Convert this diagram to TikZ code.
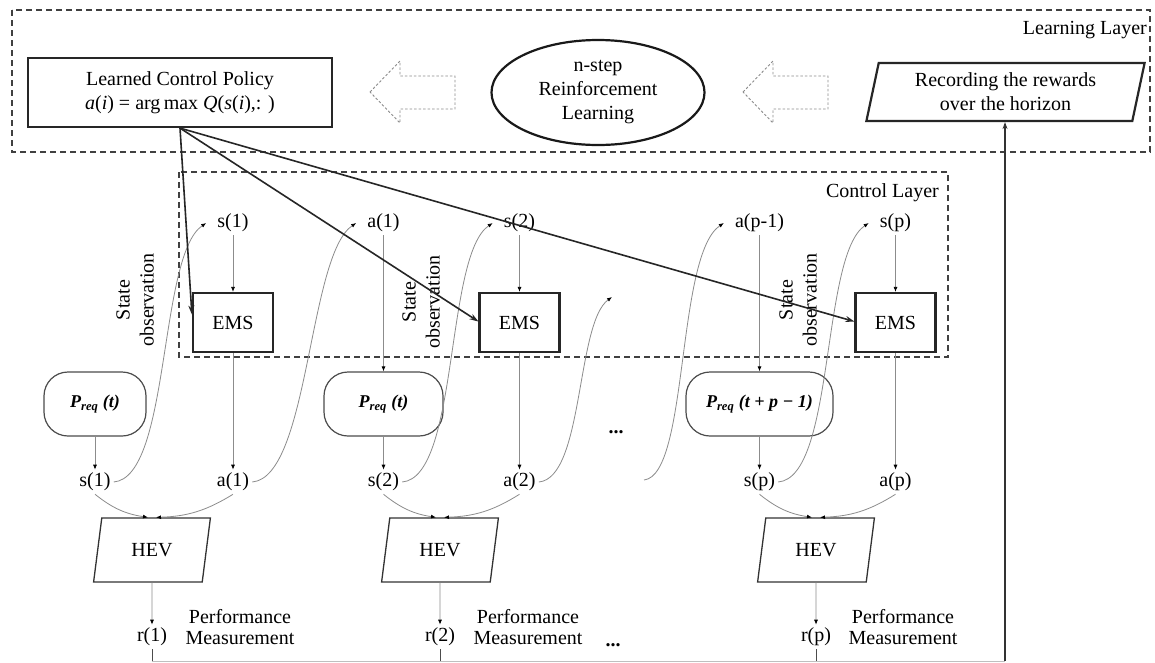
\documentclass[tikz,border=0pt]{standalone}
\usepackage{fontspec}
\setmainfont{Liberation Serif}
\usetikzlibrary{shapes.geometric,arrows.meta,calc}
\tikzset{
  basefont/.style={font=\fontsize{20}{24}\selectfont},
  lbl/.style={basefont, inner sep=3pt},
  bigbox/.style={basefont, draw=black!85, line width=2.2pt, align=center, inner sep=0pt},
  emsbox/.style={basefont, draw=black!85, line width=2.2pt, minimum width=80pt, minimum height=59pt, inner sep=0pt},
  hevbox/.style={basefont, draw=black!80, line width=1.3pt, trapezium, trapezium left angle=76, trapezium right angle=104, trapezium stretches=true, minimum width=117pt, minimum height=64pt, inner sep=0pt},
  preqbox/.style={draw=black!70, line width=1.2pt, rounded corners=24pt, minimum height=64pt, inner sep=0pt, font=\fontsize{18}{20}\selectfont\bfseries\itshape},
  layerbox/.style={draw=black!75, line width=1.5pt, dash pattern=on 6pt off 4pt},
  conn/.style={draw=black!45, line width=0.8pt},
  dottip/.style={-{Latex[length=5pt,width=4pt,color=black]}},
  ctrlarrow/.style={draw=black!85, line width=1.6pt, -{Stealth[length=9pt,width=6pt]}},
  hollowarrow/.style={draw=black!45, line width=0.9pt, dash pattern=on 2.5pt off 2pt},
  obslbl/.style={basefont, rotate=90, align=center, inner sep=0pt},
  perflbl/.style={font=\fontsize{20}{21}\selectfont, align=center, inner sep=0pt},
}
\begin{document}
\begin{tikzpicture}[x=1pt,y=-1pt]
\useasboundingbox (0,0) rectangle (1155,662);
\fill[white] (0,0) rectangle (1155,662);

% ---------- Learning layer ----------
\draw[layerbox] (12,10) rectangle (1150,152);
\node[basefont, anchor=east, inner sep=0pt] (ll) at (1147,30) {Learning Layer};

\node[bigbox, minimum width=304pt, minimum height=69pt] (lcp) at (180,92.5)
  {Learned Control Policy\\\textit{a}(\textit{i}) = arg\,max \textit{Q}(\textit{s}(\textit{i}),: )};
\node[basefont, draw=black!90, line width=2.2pt, ellipse, minimum width=213pt, minimum height=105pt, align=center, inner sep=0pt] (rl) at (598,92.5)
  {n-step\\Reinforcement\\Learning};
\node[basefont, draw=black!85, line width=2.2pt, trapezium, trapezium left angle=77, trapezium right angle=103, trapezium stretches=true, minimum width=279pt, minimum height=58pt, align=center, inner sep=0pt] (rec) at (1005.5,92)
  {Recording the rewards\\over the horizon};

\draw[hollowarrow] (370,92) -- (400,61) -- (400,76) -- (455,76) -- (455,109) -- (400,109) -- (400,123) -- cycle;
\draw[hollowarrow] (743,92) -- (773,61) -- (773,76) -- (828,76) -- (828,109) -- (773,109) -- (773,123) -- cycle;

% ---------- Control layer ----------
\draw[layerbox] (179,172) rectangle (948,357);
\node[basefont, anchor=east, inner sep=0pt] (cl) at (939,193) {Control Layer};

\node[emsbox] (e1) at (233,322.5) {EMS};
\node[emsbox] (e2) at (519.5,322.5) {EMS};
\node[emsbox] (e3) at (895.5,322.5) {EMS};

\node[lbl] (ts1) at (233,223) {s(1)};
\node[lbl] (ta1) at (383.5,223) {a(1)};
\node[lbl] (ts2) at (519.5,223) {s(2)};
\node[lbl] (tap) at (759.5,223) {a(p-1)};
\node[lbl] (tsp) at (895.5,223) {s(p)};

% ---------- Requests ----------
\node[preqbox, minimum width=102pt] (p1) at (95,404) {P\textsubscript{req} (t)};
\node[preqbox, minimum width=119pt] (p2) at (383.5,404) {P\textsubscript{req} (t)};
\node[preqbox, minimum width=147pt] (p3) at (759.5,404) {P\textsubscript{req} (t + p − 1)};

\node[lbl] (ls1) at (95,482) {s(1)};
\node[lbl] (la1) at (233,482) {a(1)};
\node[lbl] (ls2) at (383.5,482) {s(2)};
\node[lbl] (la2) at (519.5,482) {a(2)};
\node[lbl] (lsp) at (759.5,482) {s(p)};
\node[lbl] (lap) at (895.5,482) {a(p)};

\node[basefont, font=\fontsize{20}{24}\selectfont\bfseries, anchor=base, inner sep=0pt] (dots1) at (616,433) {...};

% ---------- HEV ----------
\node[hevbox] (h1) at (152,550) {HEV};
\node[hevbox] (h2) at (440,550) {HEV};
\node[hevbox] (h3) at (816,550) {HEV};

\node[lbl] (r1) at (152,637) {r(1)};
\node[lbl] (r2) at (440,637) {r(2)};
\node[lbl] (r3) at (816,637) {r(p)};
\node[perflbl] (pm1) at (240,627) {Performance\\Measurement};
\node[perflbl] (pm2) at (528,627) {Performance\\Measurement};
\node[perflbl] (pm3) at (903,627) {Performance\\Measurement};
\node[basefont, font=\fontsize{20}{24}\selectfont\bfseries, anchor=base, inner sep=0pt] (dots2) at (613,646) {...};

% ---------- straight connectors ----------
\draw[conn, dottip] (ts1) -- (e1);
\draw[conn, dottip] (ta1) -- (p2);
\draw[conn, dottip] (ts2) -- (e2);
\draw[conn, dottip] (tap) -- (p3);
\draw[conn, dottip] (tsp) -- (e3);
\draw[conn, dottip] (e1) -- (la1);
\draw[conn, dottip] (e2) -- (la2);
\draw[conn, dottip] (e3) -- (lap);
\draw[conn, dottip] (p1) -- (ls1);
\draw[conn, dottip] (p2) -- (ls2);
\draw[conn, dottip] (p3) -- (lsp);
\draw[conn, dottip] (h1) -- (r1);
\draw[conn, dottip] (h2) -- (r2);
\draw[conn, dottip] (h3) -- (r3);

\draw[conn, dottip] (ls1.south) to[bend right=15] ($(h1.north)+(-4,0)$);
\draw[conn, dottip] (la1.south) to[bend left=15] ($(h1.north)+(4,0)$);
\draw[conn, dottip] (ls2.south) to[bend right=15] ($(h2.north)+(-4,0)$);
\draw[conn, dottip] (la2.south) to[bend left=15] ($(h2.north)+(4,0)$);
\draw[conn, dottip] (lsp.south) to[bend right=15] ($(h3.north)+(-4,0)$);
\draw[conn, dottip] (lap.south) to[bend left=15] ($(h3.north)+(4,0)$);

% ---------- state observation curves ----------
\coordinate (dotend) at (612,297);
\coordinate (c5s) at (644,480);
\draw[conn, dottip] (ls1.east) .. controls ($(ls1.east)+(57,-5)$) and ($(ts1.west)+(-56,32)$) .. ($(ts1.west)+(-8,0)$);
\draw[conn, dottip] (la1.east) .. controls ($(la1.east)+(57,-5)$) and ($(ta1.west)+(-56,32)$) .. ($(ta1.west)+(-8,0)$);
\draw[conn, dottip] (ls2.east) .. controls ($(ls2.east)+(57,-5)$) and ($(ts2.west)+(-56,32)$) .. ($(ts2.west)+(-8,0)$);
\draw[conn, dottip] (la2.east) .. controls ($(la2.east)+(45,-4)$) and ($(dotend)+(-36,26)$) .. (dotend);
\draw[conn, dottip] (c5s) .. controls ($(c5s)+(45,-5)$) and ($(tap.west)+(-56,32)$) .. ($(tap.west)+(-8,0)$);
\draw[conn, dottip] (lsp.east) .. controls ($(lsp.east)+(57,-5)$) and ($(tsp.west)+(-56,32)$) .. ($(tsp.west)+(-8,0)$);

\node[obslbl] (o1) at (135,300) {State\\observation};
\node[obslbl] (o2) at (421,302) {State\\observation};
\node[obslbl] (o3) at (798,300) {State\\observation};

% ---------- control policy arrows ----------
\draw[ctrlarrow] (lcp.south) -- ($(e1.west)+(0,-8)$);
\draw[ctrlarrow] (lcp.south) -- ($(e2.west)+(0,-1)$);
\draw[ctrlarrow] (lcp.south) -- ($(e3.west)+(0,-1)$);

% ---------- reward feedback ----------
\coordinate (b1) at (152,661);
\coordinate (b2) at (440,661);
\coordinate (b3) at (816,661);
\coordinate (bR) at (1005,661);
\draw[draw=black!70, line width=1pt] (r1) -- (b1);
\draw[draw=black!70, line width=1pt] (r2) -- (b2);
\draw[draw=black!70, line width=1pt] (r3) -- (b3);
\draw[draw=black!25, line width=0.8pt] (b1) -- (bR);
\draw[draw=black!80, line width=1.3pt, -{Stealth[length=7pt,width=5pt]}] (bR) -- (bR |- rec.south);
\end{tikzpicture}
\end{document}
